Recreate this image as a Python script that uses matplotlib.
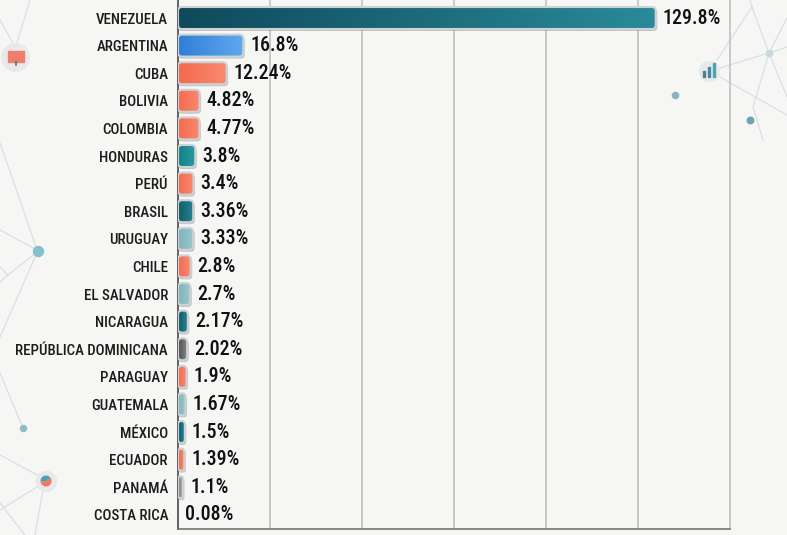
#!/usr/bin/env python
# coding:utf-8

import logging
import matplotlib
matplotlib.use('Agg')
import matplotlib.pyplot as plt
from matplotlib.colors import LinearSegmentedColormap
from matplotlib.patches import FancyBboxPatch
import numpy as np

logging.getLogger('matplotlib.font_manager').setLevel(logging.ERROR)
plt.rcParams['font.family'] = ['Roboto Condensed', 'Archivo Narrow', 'Asap Condensed', 'Roboto', 'DejaVu Sans']

paises = ['VENEZUELA', 'ARGENTINA', 'CUBA', 'BOLIVIA', 'COLOMBIA', 'HONDURAS', 'PERÚ', 'BRASIL', 'URUGUAY',
          'CHILE', 'EL SALVADOR', 'NICARAGUA', 'REPÚBLICA DOMINICANA', 'PARAGUAY', 'GUATEMALA', 'MÉXICO',
          'ECUADOR', 'PANAMÁ', 'COSTA RICA']
valores = [129.8, 16.8, 12.24, 4.82, 4.77, 3.8, 3.4, 3.36, 3.33, 2.8, 2.7, 2.17, 2.02, 1.9, 1.67, 1.5, 1.39, 1.1, 0.08]
etiquetas = ['129.8%', '16.8%', '12.24%', '4.82%', '4.77%', '3.8%', '3.4%', '3.36%', '3.33%', '2.8%', '2.7%',
             '2.17%', '2.02%', '1.9%', '1.67%', '1.5%', '1.39%', '1.1%', '0.08%']

oscuro = ('#0f4a5c', '#2a8a9a')
azul = ('#2f7fd8', '#62a8ee')
coral = ('#f4694e', '#fa8a70')
teal = ('#14808a', '#2a9aa3')
petroleo = ('#0f5a68', '#2b8590')
claro = ('#7fb3ba', '#9cc8cd')
gris = ('#4f4f52', '#8b8b8e')
grisclaro = ('#77777a', '#c5c5c7')
colores = [oscuro, azul, coral, coral, coral, teal, coral, petroleo, claro, coral, claro, petroleo, gris, coral,
           claro, petroleo, coral, grisclaro, grisclaro]

W, H = 787, 535
fig = plt.figure(figsize=(W / 100, H / 100), dpi=100, facecolor='#f6f6f4')

# fondo: red de lineas y puntos, en pixeles
bg = fig.add_axes([0, 0, 1, 1], zorder=0)
redes = [[(0, 20), (13, 43)], [(30, 0), (17, 43)], [(0, 143), (13, 180), (37, 250)], [(0, 230), (37, 250)],
         [(37, 252), (8, 275), (0, 282)], [(8, 275), (0, 267)], [(36, 255), (0, 337)],
         [(0, 373), (23, 428)], [(0, 455), (37, 475)], [(37, 487), (0, 510)], [(43, 490), (35, 535)],
         [(0, 503), (25, 535)],
         [(717, 60), (752, 7), (750, 0)], [(720, 68), (769, 53), (787, 47)], [(769, 53), (787, 18)],
         [(752, 7), (769, 53), (787, 97)], [(769, 53), (753, 107), (763, 140)], [(720, 77), (787, 115)]]
for r in redes:
    xs, ys = zip(*r)
    bg.plot(xs, ys, color='#d5dfe1', lw=0.8, zorder=1)
for x, y, s, c in [(38, 251, 52, '#86bfcc'), (23, 428, 19, '#8dbcc8'), (675, 95, 20, '#86b5c0'),
                   (750, 120, 22, '#6fa5b2'), (769, 53, 22, '#c5dbdf')]:
    bg.scatter([x], [y], s=s, color=c, zorder=2)
for x, y, s in [(15, 57, 390), (46, 481, 207), (709, 71, 207)]:
    bg.scatter([x], [y], s=s, color='#e9e9ea', zorder=2)
# iconos
bg.add_patch(plt.Rectangle((8, 51), 16, 11, color='#ee7f6c', zorder=3))
bg.plot([16, 16], [62, 65], color='#4d6f80', lw=1.2, zorder=3)
bg.pie([60, 40], center=(46, 481), radius=5.5, colors=['#ec7b66', '#4f9db2'], startangle=-40, frame=False,
       wedgeprops={'zorder': 4})
for x, h, c in [(704, 6, '#4d7f96'), (709, 10, '#3f8ea3'), (714, 14, '#4aa5b0')]:
    bg.add_patch(plt.Rectangle((x - 1.4, 77 - h), 2.8, h, color=c, zorder=3))
bg.set_aspect('auto')
bg.set_xlim(0, W)
bg.set_ylim(H, 0)
bg.axis('off')

izq, der, arr, aba = 178, 730, 0, 529
escala = 3.65  # px por unidad
fila = 27.6
ax = fig.add_axes([izq / W, 1 - aba / H, (der - izq) / W, (aba - arr) / H], zorder=1)
ax.patch.set_alpha(0)
xmax = (der - izq) / escala
ylim = ((aba - 18) / fila, -18 / fila)
pos = np.arange(len(paises))
ax.set_xticks(np.arange(1, 6) * 92 / escala)
ax.grid(axis='x', color='#bdbdbd', lw=1.1)
ax.set_axisbelow(True)
ax.tick_params(length=0, labelbottom=False)
ax.set_yticks(pos)
ax.set_yticklabels(paises, fontsize=10.7, color='#1d1d1d', fontweight=500)
ax.tick_params(axis='y', pad=7.2)
ax.spines['top'].set_visible(False)
ax.spines['right'].set_color('#bdbdbd')
ax.spines['right'].set_linewidth(1.1)
ax.spines['left'].set_color('#3a3a3a')
ax.spines['bottom'].set_color('#6a6a6a')
ax.spines['left'].set_linewidth(1.1)
ax.spines['bottom'].set_linewidth(1.1)

alto = 22 / fila
px_x = 1 / escala
px_y = 1 / fila
aspecto = px_y / px_x

for i, (v, e, c) in enumerate(zip(valores, etiquetas, colores)):
    fin = v
    if v > 0.5:
        fin = v + min(4, 0.9 * v) * px_x
        rad = min(4 * px_x, fin * 0.45)
        # sombra
        sombra = FancyBboxPatch((0, i - alto / 2 + 2 * px_y), fin + 1.5 * px_x, alto,
                                boxstyle='round,pad=0,rounding_size=%f' % rad, mutation_aspect=aspecto,
                                fc='#555555', ec='none', alpha=0.3, zorder=3)
        ax.add_patch(sombra)
        caja = FancyBboxPatch((0, i - alto / 2), fin, alto, boxstyle='round,pad=0,rounding_size=%f' % rad,
                              mutation_aspect=aspecto, fc='none', ec='#cdd2d4', lw=1.5, zorder=5)
        ax.add_patch(caja)
        cmap = LinearSegmentedColormap.from_list('b', list(c))
        im = ax.imshow(np.linspace(0, 1, 128).reshape(1, -1), extent=(0, fin, i + alto / 2, i - alto / 2), cmap=cmap,
                       aspect='auto', zorder=4, interpolation='bilinear')
        im.set_clip_path(caja)
    ax.annotate(e, (fin, i), xytext=(5.04, 0), textcoords='offset points', va='center', ha='left',
                fontsize=14.4, color='#111111', fontweight=500)
ax.set_xlim(0, xmax)
ax.set_ylim(*ylim)

fig.savefig('out.png', dpi=100, facecolor=fig.get_facecolor())
